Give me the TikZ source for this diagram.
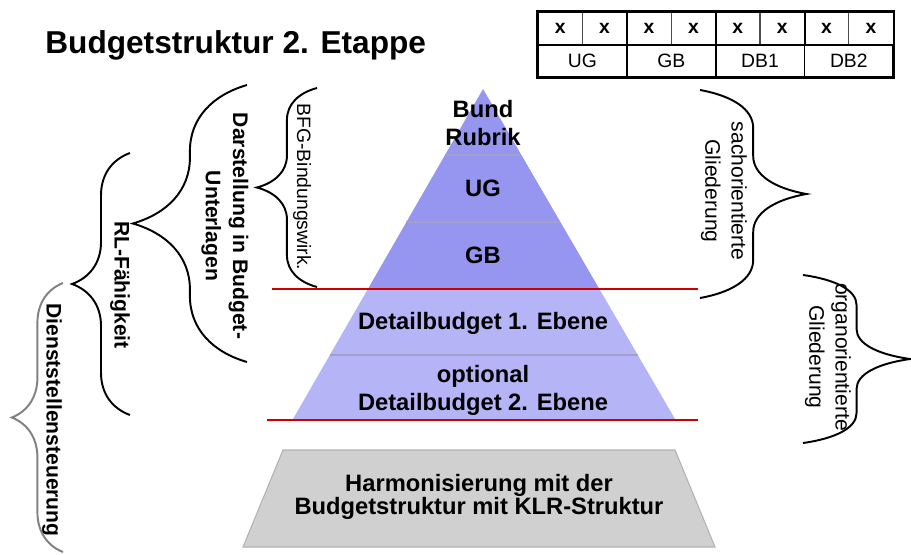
\documentclass[tikz,border=0pt]{standalone}
\usepackage{fontspec}
\setmainfont{Liberation Sans}
\usepackage{tikz}
\usepackage{xcolor}
\usetikzlibrary{calc}
\usetikzlibrary{decorations.pathreplacing}
\tikzset{>=latex}

\definecolor{pyrtop}{RGB}{150,150,240}
\definecolor{pyrlow}{RGB}{180,180,246}
\definecolor{bandgray}{RGB}{160,160,200}
\definecolor{linered}{RGB}{204,0,0}
\definecolor{basegray}{RGB}{208,208,208}

\begin{document}
\begin{tikzpicture}[
        x=0.02cm, y=-0.02cm,
        cell/.style={draw=black!70, line width=0.6pt, minimum width=0.888cm, minimum height=0.66cm, inner sep=0pt, font=\fontsize{11}{12}\selectfont\bfseries},
        paircell/.style={draw, line width=1pt, minimum width=1.776cm, minimum height=0.64cm, inner sep=0pt, font=\fontsize{11}{12}\selectfont},
        level/.style={align=center, inner sep=0pt, font=\fontsize{13.5}{16}\selectfont\bfseries},
        brace/.style={decorate, line width=1.1pt},
        sidelabel/.style={rotate=-90, align=center, inner sep=0pt, font=\fontsize{12}{15}\selectfont},
        redline/.style={draw=linered, line width=1.4pt},
        bandline/.style={draw=bandgray, line width=0.6pt}
    ]
    \useasboundingbox (0,0) rectangle (911,554);
    % title
    \node[anchor=west, inner sep=0pt, font=\fontsize{18}{22}\selectfont\bfseries] (title) at (45,45) {Budgetstruktur 2. Etappe};
    % key table
    \foreach \i in {0,...,7} {
        \node[cell] (c\i) at (560.2+44.4*\i, 28.5) {x};
    }
    \foreach \lbl/\nm [count=\j from 0] in {UG/tug, GB/tgb, DB1/tdbone, DB2/tdbtwo} {
        \node[paircell] (\nm) at (582.4+88.8*\j, 61) {\lbl};
    }
    \foreach \i in {1,3,5} {
        \draw[line width=1pt] (c\i.north east) -- (c\i.south east);
    }
    \draw[line width=1.6pt] (c0.north west) rectangle (tdbtwo.south east);
    % pyramid
    \coordinate (apex) at (483,89);
    \coordinate (bl) at (293,419);
    \coordinate (br) at (675,419);
    \fill[pyrtop] (apex) -- ($(apex)!0.606!(bl)$) -- ($(apex)!0.606!(br)$) -- cycle;
    \fill[pyrlow] ($(apex)!0.606!(bl)$) -- (bl) -- (br) -- ($(apex)!0.606!(br)$) -- cycle;
    \foreach \t in {0.2, 0.403, 0.806} {
        \draw[bandline] ($(apex)!\t!(bl)$) -- ($(apex)!\t!(br)$);
    }
    \node[level] (bund) at (483,123) {Bund\\Rubrik};
    \node[level] (ug) at (483,188) {UG};
    \node[level] (gb) at (483,255) {GB};
    \node[level] (dbone) at (483,323) {Detailbudget 1. Ebene};
    \node[level] (dbtwo) at (483,390) {optional\\Detailbudget 2. Ebene};
    % red limits
    \coordinate (topl) at (272,289);
    \coordinate (topr) at (698,289);
    \draw[redline] (topl) -- (topr);
    \coordinate (lowl) at (267,420);
    \coordinate (lowr) at (698,420);
    \draw[redline] (lowl) -- (lowr);
    % base
    \filldraw[fill=basegray, draw=black!30, line width=0.6pt] (283,450) -- (675,450) -- (715,547) -- (243,547) -- cycle;
    \node[level, font=\fontsize{13.5}{13.5}\selectfont\bfseries] (harmon) at (479,497) {Harmonisierung mit der\\Budgetstruktur mit KLR-Struktur};
    % left braces
    \coordinate (bfgb) at (317,287);
    \coordinate (bfgt) at (317,88);
    \draw[brace, decoration={brace, amplitude=0.64cm, transform={yscale=1.88}}] (bfgb) -- (bfgt);
    \node[sidelabel, font=\fontsize{11}{13}\selectfont] (bfg) at (302,187) {BFG-Bindungswirk.};
    \coordinate (darb) at (247,362);
    \coordinate (dart) at (247,85);
    \draw[brace, decoration={brace, amplitude=1.32cm, transform={yscale=1.73}}] (darb) -- (dart);
    \node[sidelabel, font=\fontsize{12}{15.5}\selectfont\bfseries] (darst) at (225,226) {Darstellung in Budget-\\Unterlagen};
    \coordinate (rlb) at (130,415);
    \coordinate (rlt) at (130,153);
    \draw[brace, decoration={brace, amplitude=0.84cm, transform={yscale=1.38}}] (rlb) -- (rlt);
    \node[sidelabel, font=\fontsize{12}{15}\selectfont\bfseries] (rl) at (120,285) {RL-Fähigkeit};
    \coordinate (dsb) at (63,552);
    \coordinate (dst) at (63,283);
    \draw[brace, draw=gray, decoration={brace, amplitude=0.8cm, transform={yscale=1.28}}] (dsb) -- (dst);
    \node[sidelabel, font=\fontsize{12}{15}\selectfont\bfseries] (dienst) at (52,420) {Dienststellensteuerung};
    % right braces
    \coordinate (sat) at (700,90);
    \coordinate (sab) at (700,298);
    \draw[brace, decoration={brace, amplitude=0.76cm, transform={yscale=2.8}}] (sat) -- (sab);
    \node[sidelabel] (sach) at (724,191) {sachorientierte\\Gliederung};
    \coordinate (ort) at (803,275);
    \coordinate (orb) at (803,443);
    \draw[brace, decoration={brace, amplitude=0.6cm, transform={yscale=3.57}}] (ort) -- (orb);
    \node[sidelabel] (organ) at (828,357) {organorientierte\\Gliederung};
\end{tikzpicture}
\end{document}
